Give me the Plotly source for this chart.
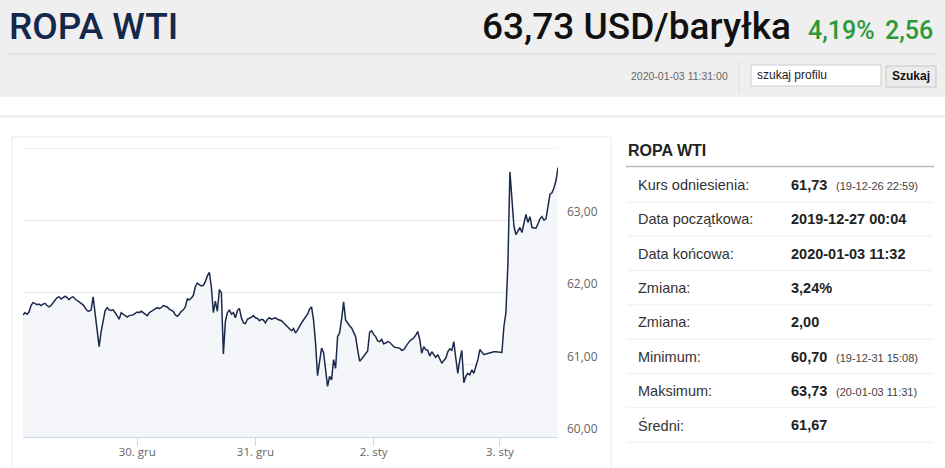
import plotly.graph_objects as go

# kurs ropy WTI (oś porządkowa, kolejne odczyty co ok. 40 min notowań)
prices = [
    61.69, 61.72, 61.70, 61.73, 61.82, 61.86, 61.85, 61.83, 61.84, 61.82,
    61.84, 61.85, 61.82, 61.80, 61.82, 61.86, 61.90, 61.93, 61.94, 61.91,
    61.93, 61.95, 61.93, 61.90, 61.93, 61.94, 61.91, 61.89, 61.87, 61.85,
    61.83, 61.79, 61.75, 61.74, 61.76, 61.94, 61.70, 61.40, 61.25, 61.46,
    61.60, 61.75, 61.79, 61.76, 61.75, 61.76, 61.72, 61.67, 61.63, 61.72,
    61.70, 61.68, 61.66, 61.68, 61.68, 61.69, 61.71, 61.73, 61.72, 61.74,
    61.72, 61.70, 61.68, 61.72, 61.74, 61.76, 61.77, 61.79, 61.78, 61.79,
    61.82, 61.81, 61.80, 61.77, 61.75, 61.74, 61.69, 61.67, 61.70, 61.74,
    61.76, 61.80, 61.91, 61.90, 61.92, 61.96, 62.08, 62.13, 62.11, 62.09,
    62.10, 62.15, 62.23, 62.28, 62.08, 61.72, 61.88, 61.74, 62.04, 62.00,
    61.15, 61.60, 61.72, 61.76, 61.70, 61.72, 61.65, 61.75, 61.78, 61.65,
    61.58, 61.57, 61.63, 61.64, 61.66, 61.68, 61.65, 61.64, 61.61, 61.63,
    61.62, 61.58, 61.63, 61.65, 61.63, 61.64, 61.65, 61.63, 61.62, 61.61,
    61.58, 61.55, 61.52, 61.49, 61.47, 61.50, 61.44, 61.48, 61.54, 61.58,
    61.62, 61.66, 61.70, 61.77, 61.80, 61.62, 61.30, 60.85, 61.07, 61.23,
    61.17, 60.93, 60.70, 60.84, 60.79, 61.07, 60.95, 61.39, 61.44, 61.63,
    61.87, 61.62, 61.57, 61.54, 61.51, 61.46, 61.39, 61.21, 61.05, 61.08,
    61.12, 61.16, 61.19, 61.45, 61.47, 61.42, 61.39, 61.33, 61.32, 61.35,
    61.29, 61.30, 61.32, 61.31, 61.28, 61.25, 61.24, 61.24, 61.23, 61.20,
    61.21, 61.25, 61.30, 61.33, 61.35, 61.37, 61.41, 61.46, 61.35, 61.16,
    61.25, 61.21, 61.20, 61.12, 61.18, 61.14, 61.10, 61.14, 61.08, 61.02,
    61.06, 61.09, 61.18, 61.22, 61.20, 61.32, 61.09, 60.88, 61.07, 61.20,
    60.75, 60.84, 60.88, 60.86, 60.93, 60.88, 60.98, 61.07, 61.21, 61.18,
    61.14, 61.15, 61.16, 61.17, 61.18, 61.18, 61.18, 61.18, 61.17, 61.17,
    61.53, 61.72, 62.40, 63.67, 63.30, 62.92, 62.80, 62.85, 62.90, 62.83,
    62.97, 63.08, 62.97, 63.05, 62.90, 62.90, 62.89, 62.95, 63.02, 63.05,
    63.00, 63.02, 63.20, 63.36, 63.38, 63.45, 63.55, 63.73,
]

# indeks pierwszego odczytu danego dnia
day_ticks = [57, 116, 175, 238]
day_labels = ['30. gru', '31. gru', '2. sty', '3. sty']

y_ticks = [60, 61, 62, 63, 64]
y_labels = ['60,00', '61,00', '62,00', '63,00', '']

stat_labels = ['Kurs odniesienia:', 'Data początkowa:', 'Data końcowa:', 'Zmiana:',
               'Zmiana:', 'Minimum:', 'Maksimum:', 'Średni:']
stat_values = ['61,73', '2019-12-27 00:04', '2020-01-03 11:32', '3,24%',
               '2,00', '60,70', '63,73', '61,67']
stat_notes = ['(19-12-26 22:59)', '', '', '', '', '(19-12-31 15:08)', '(20-01-03 11:31)', '']

W, H = 945, 468


def px(x):
    return x / W


def py(y):
    return 1 - y / H


def rect(x0, y0, x1, y1, fill, line=None, width=1):
    return dict(type='rect', xref='paper', yref='paper', layer='below',
                x0=px(x0), x1=px(x1), y0=py(y1), y1=py(y0), fillcolor=fill,
                line=dict(color=line or fill, width=width if line else 0))


def hline(x0, x1, y, color, width=1):
    return dict(type='line', xref='paper', yref='paper', layer='below',
                x0=px(x0), x1=px(x1), y0=py(y), y1=py(y), line=dict(color=color, width=width))


def label(x, y, s, size, color='#333', anchor='left', family='Liberation Sans', weight='normal'):
    return dict(x=px(x), y=py(y), xref='paper', yref='paper', text=s, showarrow=False,
                xanchor=anchor, yanchor='middle', align=anchor,
                font=dict(size=size, color=color, family=family, weight=weight))


fig = go.Figure()
fig.add_trace(go.Scatter(
    x=list(range(len(prices))), y=prices, mode='lines',
    line=dict(color='#1b2a4a', width=1.5),
    fill='tozeroy', fillcolor='#f5f6f9',
    hoverinfo='skip',
))

shapes = [
    rect(0, 0, 945, 97, '#efefef'),
    hline(8, 937, 54, '#d8d8d8'),
    dict(type='line', xref='paper', yref='paper', x0=px(739), x1=px(739), y0=py(61), y1=py(93),
         line=dict(color='#dddddd', width=1)),
    rect(751, 65, 881, 86, '#ffffff', '#cccccc'),
    rect(886, 66, 936, 87, '#ececec', '#c8c8c8'),
    rect(0, 115, 945, 118, '#f0f0f0'),
    rect(12, 137, 611, 475, 'rgba(0,0,0,0)', '#e9e9e9'),
    hline(626, 934, 166.5, '#bbbbbb', 1.5),
    # górna linia siatki (64,00) na krawędzi obszaru wykresu
    dict(type='line', xref='x domain', yref='y', x0=0, x1=1, y0=y_ticks[-1], y1=y_ticks[-1],
         layer='below', line=dict(color='#e6e6e6', width=1)),
]
row_y = [185 + 34.3 * i for i in range(len(stat_labels))]
for y in row_y:
    shapes.append(hline(627, 933, y + 17, '#eeeeee'))

ann = [
    label(7, 26, 'ROPA WTI', 37, '#13284a', family='Roboto', weight=500),
    label(793, 26, '63,73 USD/baryłka', 37, '#111111', anchor='right', family='Roboto', weight=500),
    label(806, 31, '4,19%', 25, '#2a9a3a', family='Roboto', weight=500),
    label(883, 31, '2,56', 25, '#2a9a3a', family='Roboto', weight=500),
    label(730, 76, '2020-01-03 11:31:00', 10.5, '#666666', anchor='right'),
    label(755, 75.5, 'szukaj profilu', 12, '#222222'),
    label(911, 76.5, 'Szukaj', 12, '#111111', anchor='center', weight='bold'),
    label(626, 151, 'ROPA WTI', 16, '#222222', weight='bold'),
]
for y, lab, val, note in zip(row_y, stat_labels, stat_values, stat_notes):
    ann.append(label(636, y, lab, 14.5, '#333333'))
    ann.append(label(789, y, val, 14.5, '#222222', weight='bold'))
    if note:
        ann.append(label(834, y + 1, note, 11, '#444444'))

fig.update_layout(
    width=W, height=H,
    margin=dict(l=0, r=0, t=0, b=0),
    paper_bgcolor='white', plot_bgcolor='rgba(0,0,0,0)',
    showlegend=False,
    separators=', ',
    shapes=shapes,
    annotations=ann,
    xaxis=dict(
        domain=[px(23), px(558)], range=[0, len(prices) - 1],
        tickvals=day_ticks, ticktext=day_labels,
        ticks='outside', ticklen=8, tickcolor='#ccd6eb',
        ticklabelstandoff=-4,
        showline=True, linecolor='#ccd6eb', linewidth=1,
        showgrid=False, zeroline=False,
        tickfont=dict(family='Open Sans', size=11.5, color='#666666'),
        fixedrange=True,
    ),
    yaxis=dict(
        domain=[py(437), py(148)], range=[60, 64], side='right',
        tickvals=y_ticks, ticktext=y_labels,
        ticklabelposition='outside top', ticklabelstandoff=8,
        gridcolor='#e6e6e6', showline=False, zeroline=False, ticks='',
        tickfont=dict(family='Open Sans', size=12, color='#666666'),
        fixedrange=True,
    ),
)

fig.write_html('out.html', config={'displayModeBar': False},
               post_script="document.body.style.margin='0';")
